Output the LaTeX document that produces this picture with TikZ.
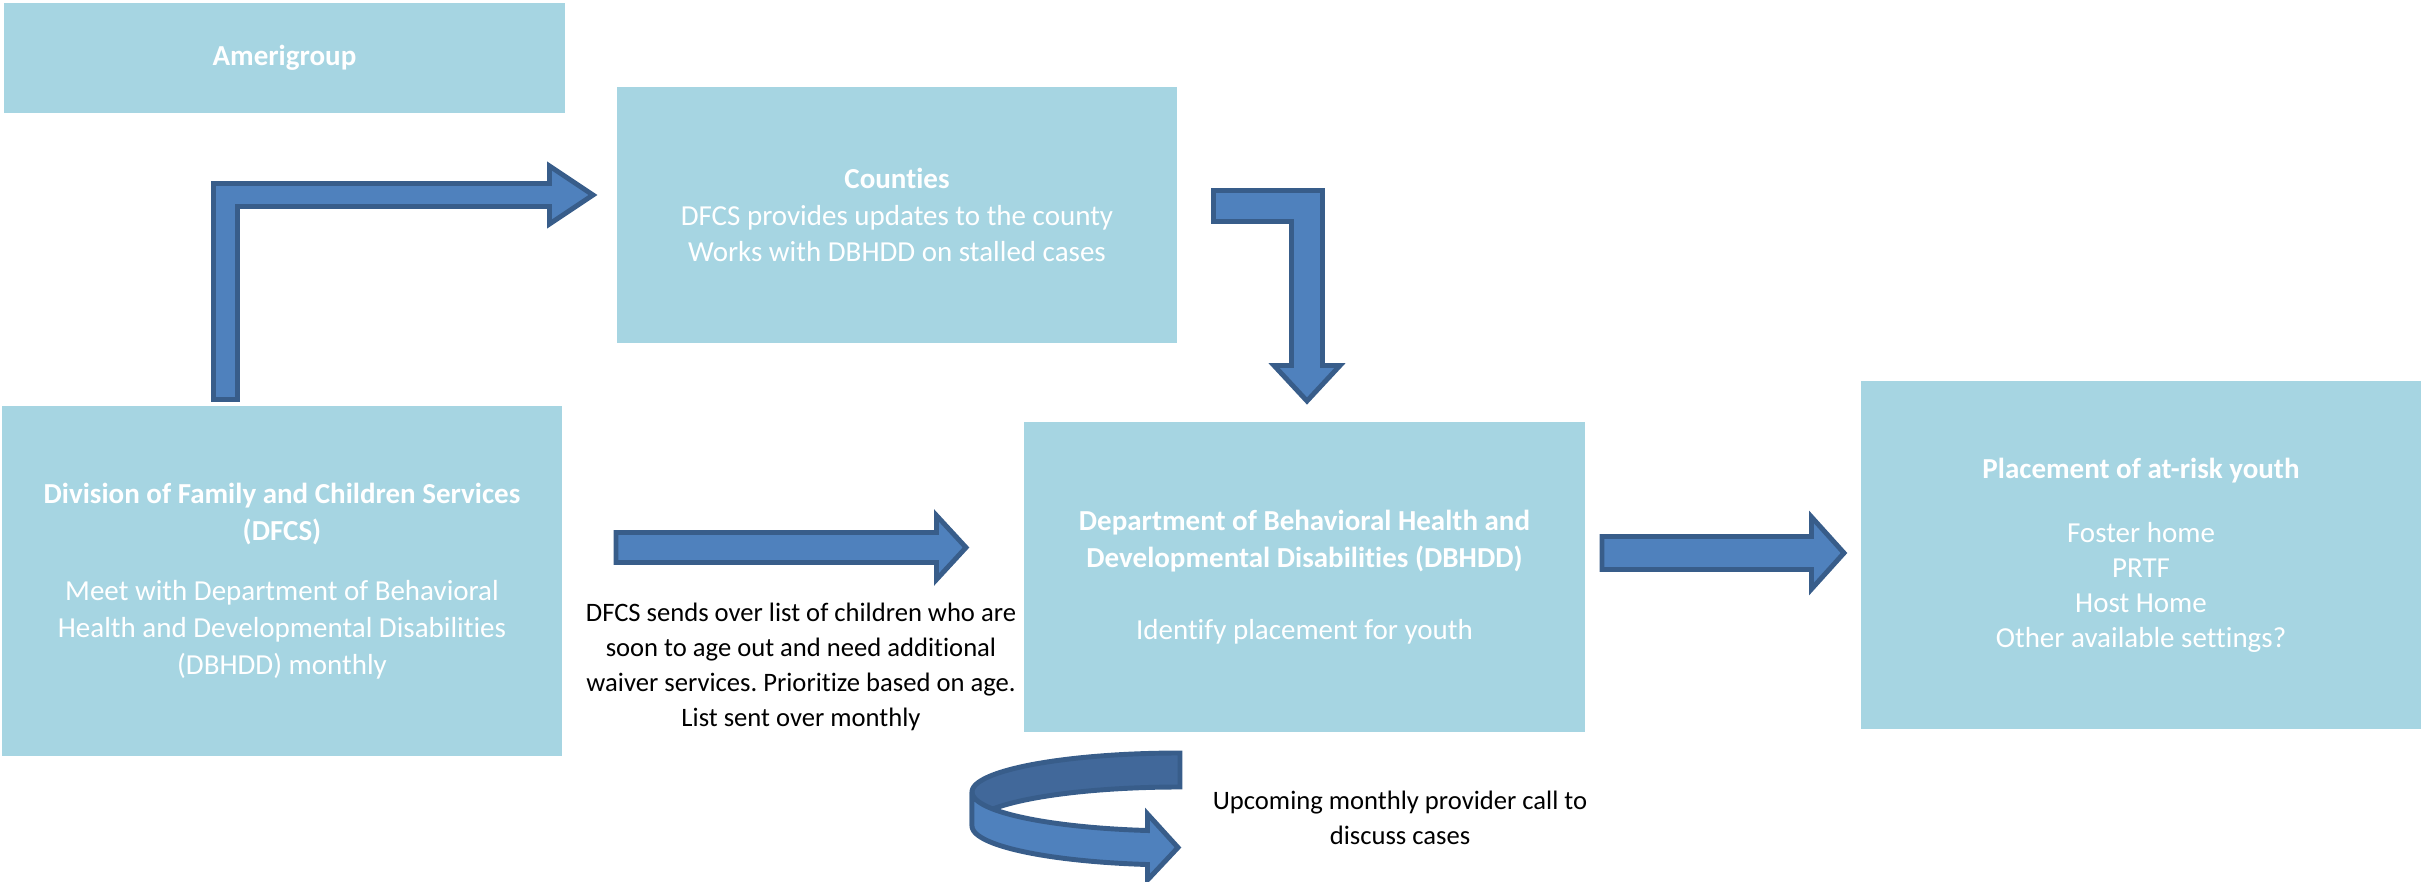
\documentclass[tikz,border=0pt]{standalone}
\usepackage{fontspec}
\setmainfont{Carlito}[Ligatures=NoCommon]
\frenchspacing
\definecolor{boxblue}{RGB}{166,213,226}
\definecolor{arrowfill}{RGB}{79,129,189}
\definecolor{arrowback}{RGB}{65,104,154}
\definecolor{arrowedge}{RGB}{56,93,138}

\begin{document}
\begin{tikzpicture}[x=0.01cm,y=-0.01cm,
  panel/.style={fill=boxblue,text=white,align=center,inner sep=0pt,minimum width=5.6cm,font=\fontsize{8.25}{10.5}\selectfont},
  note/.style={align=center,inner sep=0pt,font=\fontsize{7.57}{9.96}\selectfont},
  blockarrow/.style={fill=arrowfill,draw=arrowedge,line width=1.4pt,line join=miter}]
  \useasboundingbox (0,0) rectangle (2423,882);

  \node[panel,minimum height=1.1cm] (amerigroup) at (284.5,58) {\textbf{Amerigroup}};
  \node[panel,minimum height=2.56cm] (counties) at (897,215) {\textbf{Counties}\\DFCS provides updates to the county\\Works with DBHDD on stalled cases};
  \node[panel,minimum height=3.5cm] (dfcs) at (282,581) {\textbf{Division of Family and Children Services}\\\textbf{(DFCS)}\\[6.5pt]Meet with Department of Behavioral\\Health and Developmental Disabilities\\(DBHDD) monthly};
  \node[panel,minimum height=3.1cm] (dbhdd) at (1304.5,577) {\textbf{Department of Behavioral Health and}\\\textbf{Developmental Disabilities (DBHDD)}\\[10pt]Identify placement for youth};
  \node[panel,minimum height=3.48cm,font=\fontsize{8.25}{9.9}\selectfont] (placement) at (2141,555) {\textbf{Placement of at-risk youth}\\[8.5pt]Foster home\\PRTF\\Host Home\\Other available settings?};

  \node[note] (sendnote) at (801,667) {DFCS sends over list of children who are\\soon to age out and need additional\\waiver services. Prioritize based on age.\\List sent over monthly};
  \node[note] (callnote) at (1400,818) {Upcoming monthly provider call to\\discuss cases};

  % bent arrows
  \draw[blockarrow] (213.5,399.5) -- (213.5,183.5) -- (549.5,183.5) -- (549.5,166) -- (593,195) -- (549.5,224) -- (549.5,206.5) -- (237.5,206.5) -- (237.5,399.5) -- cycle;
  \draw[blockarrow] (1213.5,190.5) -- (1322.5,190.5) -- (1322.5,365.5) -- (1340,365.5) -- (1307,401) -- (1274,365.5) -- (1291.5,365.5) -- (1291.5,221.5) -- (1213.5,221.5) -- cycle;

  % straight arrows
  \draw[blockarrow] (616,532.5) -- (936.5,532.5) -- (936.5,515.5) -- (966,547.5) -- (936.5,579.5) -- (936.5,562.5) -- (616,562.5) -- cycle;
  \draw[blockarrow] (1602,536.5) -- (1811.5,536.5) -- (1811.5,517) -- (1844,553) -- (1811.5,589) -- (1811.5,569.5) -- (1602,569.5) -- cycle;

  % circular arrow, back half then front half
  \draw[blockarrow,fill=arrowback] plot[domain=90:180,samples=40] ({1180+208*cos(\x)},{792-39*sin(\x)})
    -- plot[domain=180:90,samples=40] ({1180+208*cos(\x)},{826-39*sin(\x)}) -- cycle;
  \draw[blockarrow] plot[domain=180:261,samples=40] ({1180+208*cos(\x)},{792-39*sin(\x)})
    -- (1147.5,814) -- (1178,847.5) -- (1147.5,880)
    -- plot[domain=261:180,samples=40] ({1180+208*cos(\x)},{826-39*sin(\x)}) -- cycle;
\end{tikzpicture}
\end{document}
